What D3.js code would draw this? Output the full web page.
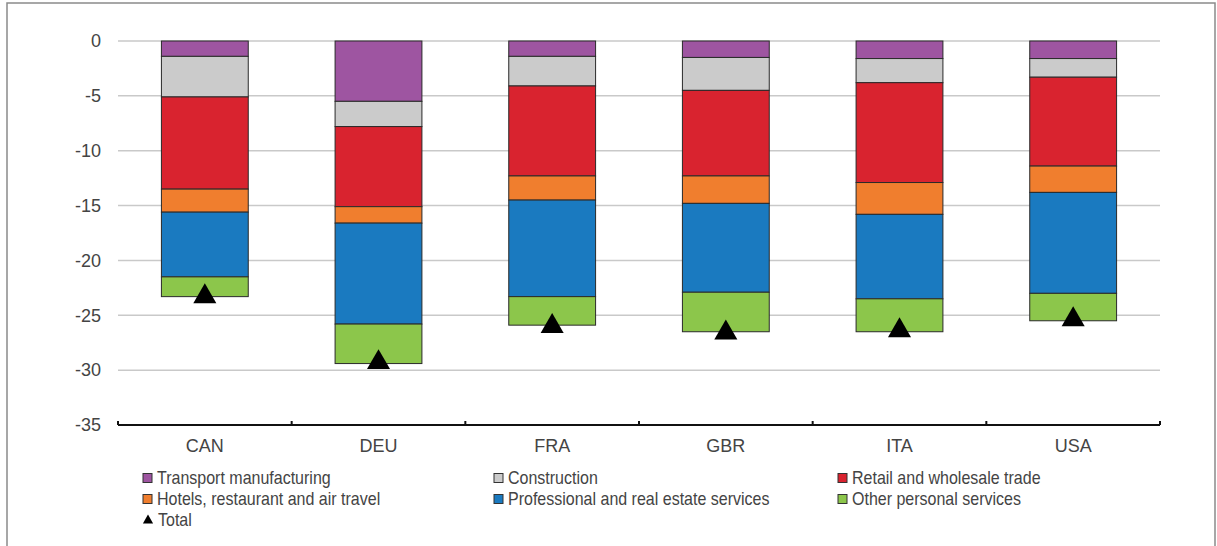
<!DOCTYPE html>
<html>
<head>
<meta charset="utf-8">
<script src="https://cdn.jsdelivr.net/npm/d3@7"></script>
<style>
  html, body { margin: 0; padding: 0; background: #fff; }
  svg { display: block; }
  text { font-family: "Liberation Sans Narrow", "Arial Narrow", "Liberation Sans", Arial, sans-serif; fill: #444; }
</style>
</head>
<body>
<svg width="1217" height="546"></svg>
<script>
// input data
const countries = ['CAN', 'DEU', 'FRA', 'GBR', 'ITA', 'USA'];
const seriesNames = [
  'Transport manufacturing',
  'Construction',
  'Retail and wholesale trade',
  'Hotels, restaurant and air travel',
  'Professional and real estate services',
  'Other personal services',
];
const seriesColors = ['#9e55a1', '#cbcbcb', '#d9232f', '#f07e2e', '#1a7ac0', '#8cc64b'];
const transport = [-1.4, -5.5, -1.4, -1.5, -1.6, -1.6];
const construction = [-3.7, -2.3, -2.7, -3.0, -2.2, -1.7];
const retail = [-8.4, -7.3, -8.2, -7.8, -9.1, -8.1];
const hotels = [-2.1, -1.5, -2.2, -2.5, -2.9, -2.4];
const professional = [-5.9, -9.2, -8.8, -8.1, -7.7, -9.2];
const other = [-1.8, -3.6, -2.6, -3.6, -3.0, -2.5];
const total = [-23.3, -29.3, -26.0, -26.6, -26.4, -25.4];
const yTicks = [0, -5, -10, -15, -20, -25, -30, -35];

const seriesValues = [transport, construction, retail, hotels, professional, other];

// rows for d3.stack, one per country
const rows = countries.map((c, i) => {
  const row = { country: c };
  seriesNames.forEach((s, j) => { row[s] = seriesValues[j][i]; });
  return row;
});

const svg = d3.select('svg');

// frame around the figure
svg.append('rect')
  .attr('x', 7).attr('y', 3)
  .attr('width', 1208).attr('height', 600)
  .attr('fill', 'none')
  .attr('stroke', '#8a8a8a')
  .attr('stroke-width', 1.5);

const plot = { left: 118, right: 1160, top: 41, bottom: 425 };

const x = d3.scaleBand()
  .domain(countries)
  .range([plot.left, plot.right])
  .paddingInner(0.5)
  .paddingOuter(0.25);

const y = d3.scaleLinear()
  .domain([-35, 0])
  .range([plot.bottom, plot.top]);

// gridlines
svg.append('g')
  .selectAll('line')
  .data(yTicks.filter(d => d !== -35))
  .join('line')
  .attr('x1', plot.left)
  .attr('x2', plot.right)
  .attr('y1', d => y(d))
  .attr('y2', d => y(d))
  .attr('stroke', '#c9c9c9')
  .attr('stroke-width', 1.5);

// y labels
svg.append('g')
  .selectAll('text')
  .data(yTicks)
  .join('text')
  .attr('x', 101)
  .attr('y', d => y(d))
  .attr('dy', '0.35em')
  .attr('text-anchor', 'end')
  .attr('font-size', 18)
  .text(d => d);

// stacked bars
const stack = d3.stack()
  .keys(seriesNames)
  .offset(d3.stackOffsetDiverging);

const layers = stack(rows);

svg.append('g')
  .selectAll('g')
  .data(layers)
  .join('g')
  .attr('fill', (d, i) => seriesColors[i])
  .selectAll('rect')
  .data(d => d)
  .join('rect')
  .attr('x', d => x(d.data.country))
  .attr('width', x.bandwidth())
  .attr('y', d => y(d[1]))
  .attr('height', d => y(d[0]) - y(d[1]))
  .attr('stroke', '#2a2a2a')
  .attr('stroke-width', 1);

// x axis with inward ticks between categories
const axisG = svg.append('g');
axisG.append('line')
  .attr('x1', plot.left).attr('x2', plot.right)
  .attr('y1', plot.bottom).attr('y2', plot.bottom)
  .attr('stroke', '#111')
  .attr('stroke-width', 2);

const step = x.step();
const boundaries = d3.range(countries.length + 1).map(i => plot.left + i * step);
axisG.selectAll('.tick')
  .data(boundaries)
  .join('line')
  .attr('class', 'tick')
  .attr('x1', d => d).attr('x2', d => d)
  .attr('y1', plot.bottom).attr('y2', plot.bottom - 4)
  .attr('stroke', '#111')
  .attr('stroke-width', 2);

axisG.selectAll('text')
  .data(countries)
  .join('text')
  .attr('x', d => x(d) + x.bandwidth() / 2)
  .attr('y', 446)
  .attr('dy', '0.35em')
  .attr('text-anchor', 'middle')
  .attr('font-size', 18)
  .text(d => d);

// total markers
const triangle = d3.symbol().type(d3.symbolTriangle).size(230);
svg.append('g')
  .selectAll('path')
  .data(total)
  .join('path')
  .attr('d', triangle)
  .attr('transform', (d, i) => `translate(${x(countries[i]) + x.bandwidth() / 2} ${y(d)})`)
  .attr('fill', '#000');

// legend (text squeezed a little to mimic the narrow font of the original)
const legendCols = [143, 494, 838];
const legendRows = [478, 499, 520];
const squeeze = 0.89;
const legend = svg.append('g');
const items = seriesNames.map((s, i) => ({ name: s, color: seriesColors[i], col: i % 3, row: Math.floor(i / 3) }));

const li = legend.selectAll('g')
  .data(items)
  .join('g')
  .attr('transform', d => `translate(${legendCols[d.col]} ${legendRows[d.row]})`);

li.append('rect')
  .attr('x', 0).attr('y', -4.5)
  .attr('width', 9).attr('height', 9)
  .attr('fill', d => d.color)
  .attr('stroke', '#333')
  .attr('stroke-width', 1);

li.append('text')
  .attr('transform', `translate(14 0) scale(${squeeze} 1)`)
  .attr('dy', '0.35em')
  .attr('font-size', 18)
  .text(d => d.name);

const totalItem = legend.append('g')
  .attr('transform', `translate(${legendCols[0]} ${legendRows[2]})`);
totalItem.append('path')
  .attr('d', d3.symbol().type(d3.symbolTriangle).size(45))
  .attr('transform', 'translate(5 0.5)')
  .attr('fill', '#000');
totalItem.append('text')
  .attr('transform', `translate(15 0) scale(${squeeze} 1)`)
  .attr('dy', '0.35em')
  .attr('font-size', 18)
  .text('Total');
</script>
</body>
</html>
